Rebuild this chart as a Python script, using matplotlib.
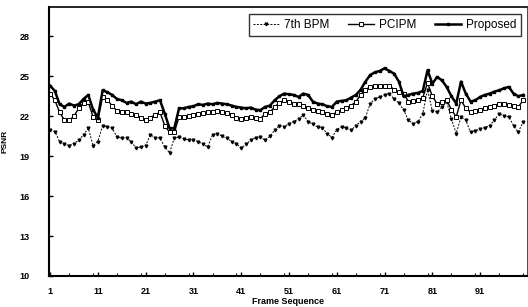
import matplotlib
matplotlib.use("Agg")
import matplotlib.pyplot as plt
from matplotlib.ticker import MultipleLocator

frames = list(range(1, 101))

proposed = [24.3, 23.9, 22.9, 22.7, 22.95, 22.8, 22.9, 23.3, 23.6, 22.5,
            21.9, 23.95, 23.8, 23.6, 23.3, 23.2, 23.0, 23.1, 22.9, 23.1,
            22.95, 23.0, 23.1, 23.2, 22.2, 21.1, 21.1, 22.6, 22.6, 22.7,
            22.75, 22.9, 22.85, 22.95, 22.9, 23.0, 22.95, 22.9, 22.8, 22.7,
            22.65, 22.6, 22.65, 22.5, 22.45, 22.7, 22.8, 23.2, 23.5, 23.7,
            23.65, 23.6, 23.45, 23.7, 23.6, 23.1, 22.95, 22.9, 22.75, 22.7,
            23.1, 23.15, 23.2, 23.4, 23.6, 24.0, 24.6, 25.1, 25.3, 25.4,
            25.6, 25.4, 25.2, 24.6, 23.5, 23.6, 23.7, 23.75, 23.9, 25.45,
            24.45, 24.95, 24.7, 24.2, 23.5, 22.95, 24.6, 23.7, 23.1, 23.2,
            23.45, 23.6, 23.7, 23.85, 23.95, 24.1, 24.2, 23.7, 23.5, 23.6]

pcipm = [23.7, 23.2, 22.3, 21.7, 21.7, 22.0, 22.6, 23.0, 23.05, 21.95,
         21.7, 23.45, 23.2, 22.8, 22.4, 22.35, 22.3, 22.2, 22.1, 21.9,
         21.7, 21.9, 22.1, 22.3, 21.3, 20.8, 20.8, 21.95, 21.95, 22.0,
         22.1, 22.2, 22.25, 22.3, 22.35, 22.4, 22.35, 22.25, 22.1, 21.9,
         21.8, 21.9, 21.95, 21.85, 21.8, 22.2, 22.3, 22.7, 23.0, 23.2,
         23.1, 22.95, 22.9, 22.8, 22.6, 22.45, 22.4, 22.3, 22.2, 22.1,
         22.3, 22.45, 22.6, 22.8, 23.1, 23.6, 24.0, 24.2, 24.25, 24.3,
         24.3, 24.3, 24.0, 23.8, 23.7, 23.1, 23.15, 23.2, 23.4, 24.5,
         23.5, 22.95, 23.1, 23.2, 22.5, 21.95, 23.2, 22.6, 22.3, 22.4,
         22.45, 22.6, 22.7, 22.8, 22.95, 22.9, 22.85, 22.8, 22.7, 23.2]

bpm7 = [20.95, 20.85, 20.1, 19.9, 19.8, 19.95, 20.2, 20.6, 21.1, 19.8,
        20.1, 21.3, 21.2, 21.1, 20.45, 20.35, 20.35, 20.1, 19.6, 19.7,
        19.8, 20.6, 20.4, 20.35, 19.7, 19.25, 20.35, 20.45, 20.3, 20.2,
        20.2, 20.1, 19.9, 19.7, 20.6, 20.7, 20.5, 20.35, 20.1, 19.95,
        19.6, 19.9, 20.2, 20.4, 20.45, 20.2, 20.5, 20.95, 21.3, 21.2,
        21.45, 21.6, 21.8, 22.1, 21.6, 21.4, 21.2, 21.1, 20.7, 20.4,
        21.0, 21.2, 21.1, 20.95, 21.3, 21.6, 21.9, 22.95, 23.3, 23.45,
        23.6, 23.7, 23.3, 23.0, 22.45, 21.7, 21.45, 21.6, 22.2, 24.0,
        22.4, 22.3, 22.7, 23.1, 21.8, 20.7, 21.95, 21.7, 20.8, 20.9,
        21.05, 21.15, 21.3, 21.7, 22.2, 22.0, 21.95, 21.3, 20.8, 21.6]

xticks = [1, 11, 21, 31, 41, 51, 61, 71, 81, 91]
yticks = [10, 13, 16, 19, 22, 25, 28]

plt.rcParams['font.family'] = ['Liberation Sans', 'DejaVu Sans']

fig = plt.figure(figsize=(5.28, 3.07), dpi=100)
ax = fig.add_axes([0.093, 0.101, 0.905, 0.876])

ax.plot(frames, bpm7, color='black', lw=0.7, ls=(0, (2, 1.5)), marker='v',
        ms=2.0, mfc='black', mec='black', label='7th BPM')
ax.plot(frames, pcipm, color='black', lw=1.0, marker='s', ms=2.6,
        mfc='white', mec='black', mew=0.7, label='PCIPM')
ax.plot(frames, proposed, color='black', lw=1.8, marker='s', ms=1.8,
        mfc='black', mec='black', label='Proposed')

ax.set_xlim(0.8, 100.8)
ax.set_ylim(10, 30.2)
ax.set_xticks(xticks)
ax.set_yticks(yticks)
ax.xaxis.set_minor_locator(MultipleLocator(5))
ax.tick_params(axis='both', which='major', direction='in', length=3,
               width=1, labelsize=6.5)
ax.tick_params(axis='both', which='minor', direction='in', length=2, width=0.8)
ax.tick_params(axis='y', pad=14)
ax.tick_params(axis='x', pad=8)
for lab in ax.get_xticklabels() + ax.get_yticklabels():
    lab.set_fontweight('bold')

ax.spines['left'].set_linewidth(1.5)
ax.spines['bottom'].set_linewidth(1.5)
ax.spines['top'].set_linewidth(1.2)
ax.spines['right'].set_linewidth(0.5)

ax.set_ylabel('PSNR', fontsize=6, fontweight='bold', labelpad=8)
ax.set_xlabel('Frame Sequence', fontsize=6.5, fontweight='bold', labelpad=1)

leg = ax.legend(loc='upper right', ncol=3, fontsize=8.5, frameon=True,
                fancybox=False, edgecolor='black', handlelength=2.2,
                columnspacing=1.6, handletextpad=0.4, borderpad=0.4,
                bbox_to_anchor=(1.0, 0.995))
leg.get_frame().set_linewidth(1.0)

fig.savefig('out.png', dpi=100)
